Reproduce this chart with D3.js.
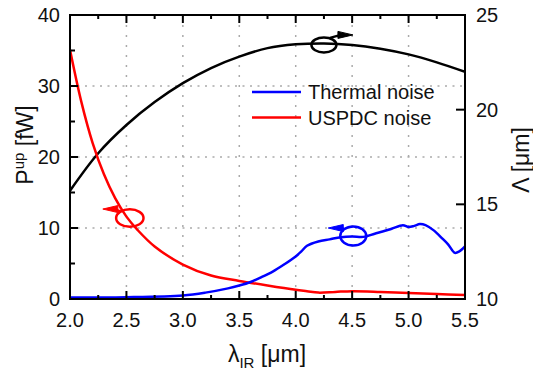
<!DOCTYPE html>
<html>
<head>
<meta charset="utf-8">
<script src="https://cdn.jsdelivr.net/npm/d3@7"></script>
<style>
body { margin: 0; background: #fff; }
text { font-family: "Liberation Sans", Arial, sans-serif; fill: #111; }
</style>
</head>
<body>
<div id="chart"></div>
<script>
// tick values
var xTicks = [2.0, 2.5, 3.0, 3.5, 4.0, 4.5, 5.0, 5.5];
var xMinorTicks = [2.25, 2.75, 3.25, 3.75, 4.25, 4.75, 5.25];
var yLeftTicks = [0, 10, 20, 30, 40];
var yLeftMinor = [5, 15, 25, 35];
var yRightTicks = [10, 15, 20, 25];
var gridX = [2.5, 3.0, 3.5, 4.0, 4.5, 5.0];
var gridY = [10, 20, 30];

// period Lambda (right axis)
var periodLambda = [2.0, 2.25, 2.5, 2.75, 3.0, 3.25, 3.5, 3.75, 4.0, 4.25, 4.5, 4.75, 5.0, 5.25, 5.5];
var periodValues = [15.72, 17.7, 19.19, 20.4, 21.4, 22.2, 22.8, 23.25, 23.45, 23.5, 23.42, 23.22, 22.92, 22.5, 22.0];

// USPDC noise (left axis)
var uspdcLambda = [2.0, 2.1, 2.2, 2.3, 2.4, 2.5, 2.6, 2.75, 3.0, 3.25, 3.5, 3.75, 4.0, 4.1, 4.2, 4.35, 4.5, 4.75, 5.0, 5.25, 5.5];
var uspdcValues = [35.1, 27.8, 22.0, 17.6, 14.2, 11.6, 9.7, 7.4, 4.85, 3.3, 2.55, 1.9, 1.3, 1.1, 0.9, 1.0, 1.1, 1.0, 0.85, 0.7, 0.55];

// thermal noise (left axis)
var thermalLambda = [2.0, 2.5, 3.0, 3.2, 3.4, 3.5, 3.6, 3.7, 3.8, 3.9, 4.0, 4.05, 4.1, 4.2, 4.3, 4.4, 4.5, 4.6, 4.7, 4.77, 4.85, 4.95, 5.0, 5.05, 5.1, 5.15, 5.22, 5.3, 5.35, 5.41, 5.45, 5.5];
var thermalValues = [0.2, 0.25, 0.5, 0.9, 1.5, 1.9, 2.4, 3.1, 3.9, 4.9, 6.0, 6.7, 7.5, 8.1, 8.4, 8.7, 8.8, 8.75, 9.2, 9.5, 9.9, 10.4, 10.15, 10.3, 10.55, 10.4, 9.7, 8.5, 7.7, 6.5, 6.7, 7.4];

var width = 533, height = 373;
var m = {left: 70, right: 68, top: 15, bottom: 74};

var svg = d3.select("#chart").append("svg").attr("width", width).attr("height", height);

var x = d3.scaleLinear().domain([2.0, 5.5]).range([m.left, width - m.right]);
var yL = d3.scaleLinear().domain([0, 40]).range([height - m.bottom, m.top]);
var yR = d3.scaleLinear().domain([10, 25]).range([height - m.bottom, m.top]);

var x0 = m.left, x1 = width - m.right, y0 = height - m.bottom, y1 = m.top;

svg.append("clipPath").attr("id", "clip")
	.append("rect").attr("x", x0).attr("y", y1).attr("width", x1 - x0).attr("height", y0 - y1);

// dotted grid
svg.append("g").selectAll("line").data(gridX).enter().append("line")
	.attr("x1", d => x(d)).attr("x2", d => x(d))
	.attr("y1", y1).attr("y2", y0)
	.style("stroke", "#aaa").style("stroke-width", 1.5).style("stroke-dasharray", "2,8");
svg.append("g").selectAll("line").data(gridY).enter().append("line")
	.attr("x1", x0).attr("x2", x1)
	.attr("y1", d => yL(d)).attr("y2", d => yL(d))
	.style("stroke", "#aaa").style("stroke-width", 1.5).style("stroke-dasharray", "2,5.5");

// curves
var curves = svg.append("g").attr("clip-path", "url(#clip)");
function addCurve(xs, vs, yScale, color) {
	var pts = xs.map((d, i) => [d, vs[i]]);
	curves.append("path")
		.datum(pts)
		.attr("d", d3.line().x(d => x(d[0])).y(d => yScale(d[1])).curve(d3.curveCatmullRom))
		.style("fill", "none").style("stroke", color).style("stroke-width", 2.5);
}
addCurve(periodLambda, periodValues, yR, "#000");
addCurve(uspdcLambda, uspdcValues, yL, "#ff0000");
addCurve(thermalLambda, thermalValues, yL, "#0000ff");

// frame
svg.append("rect").attr("x", x0).attr("y", y1).attr("width", x1 - x0).attr("height", y0 - y1)
	.style("fill", "none").style("stroke", "#000").style("stroke-width", 2);

// axes with inward ticks
var ax = svg.append("g");
function tickLines(vals, len, horiz, pos, dir, scale) {
	ax.append("g").selectAll("line").data(vals).enter().append("line")
		.attr(horiz ? "x1" : "y1", d => scale(d)).attr(horiz ? "x2" : "y2", d => scale(d))
		.attr(horiz ? "y1" : "x1", pos).attr(horiz ? "y2" : "x2", pos + dir * len)
		.style("stroke", "#000").style("stroke-width", 2);
}
tickLines(xTicks, 8, true, y0, -1, x);
tickLines(xMinorTicks, 4, true, y0, -1, x);
tickLines(xTicks, 8, true, y1, 1, x);
tickLines(xMinorTicks, 4, true, y1, 1, x);
tickLines(yLeftTicks, 8, false, x0, 1, yL);
tickLines(yLeftMinor, 5, false, x0, 1, yL);
tickLines(yRightTicks, 9, false, x1, -1, yR);

// tick labels
ax.append("g").selectAll("text").data(xTicks).enter().append("text")
	.attr("x", d => x(d)).attr("y", y0 + 28)
	.attr("text-anchor", "middle").style("font-size", "20px")
	.text(d => d.toFixed(1));
ax.append("g").selectAll("text").data(yLeftTicks).enter().append("text")
	.attr("x", x0 - 10).attr("y", d => yL(d) + 7)
	.attr("text-anchor", "end").style("font-size", "20px")
	.text(d => d);
ax.append("g").selectAll("text").data(yRightTicks).enter().append("text")
	.attr("x", x1 + 11).attr("y", d => yR(d) + 7)
	.attr("text-anchor", "start").style("font-size", "20px")
	.text(d => d);

// axis titles
var xl = svg.append("text").attr("x", 267).attr("y", 362).attr("text-anchor", "middle").style("font-size", "23px");
xl.append("tspan").text("λ");
xl.append("tspan").attr("dy", 6).style("font-size", "15px").text("IR");
xl.append("tspan").attr("dy", -6).text(" [μm]");

var yl = svg.append("text").attr("transform", "translate(33," + 145 + ") rotate(-90)")
	.attr("text-anchor", "middle").style("font-size", "23px");
yl.append("tspan").text("P");
yl.append("tspan").attr("dy", -9).style("font-size", "15px").text("up");
yl.append("tspan").attr("dy", 9).text(" [fW]");

svg.append("text").attr("transform", "translate(529," + 160 + ") rotate(-90)")
	.attr("text-anchor", "middle").style("font-size", "23px")
	.text("Λ [μm]");

// legend
var legend = [["Thermal noise", "#0000ff"], ["USPDC noise", "#ff0000"]];
legend.forEach(function (d, i) {
	var ly = 92 + i * 25.5;
	svg.append("line").attr("x1", 252).attr("x2", 301).attr("y1", ly).attr("y2", ly)
		.style("stroke", d[1]).style("stroke-width", 2.5);
	svg.append("text").attr("x", 308).attr("y", ly + 7).style("font-size", "20px").text(d[0]);
});

// annotation ellipses with arrows pointing at the axis
function marker(cx, cy, rx, ry, color, dir, base, tip) {
	var g = svg.append("g");
	g.append("ellipse").attr("cx", cx).attr("cy", cy).attr("rx", rx).attr("ry", ry)
		.style("fill", "none").style("stroke", color).style("stroke-width", 2.5);
	g.append("line").attr("x1", base[0]).attr("y1", base[1]).attr("x2", tip[0] - dir * 12).attr("y2", tip[1])
		.style("stroke", color).style("stroke-width", 2.5);
	g.append("path")
		.attr("d", "M" + tip[0] + "," + tip[1] + "L" + (tip[0] - dir * 15) + "," + (tip[1] - 3.5) +
			"L" + (tip[0] - dir * 15) + "," + (tip[1] + 3.5) + "Z")
		.style("fill", color).style("stroke", color).style("stroke-width", 1);
}
var bx = x(4.25), by = yR(23.42);
marker(bx, by, 12.5, 7.5, "#000", 1, [bx + 6, by - 7], [bx + 29, by - 10]);
var rx = x(2.53), ry = yL(11.4);
marker(rx, ry, 13.7, 8.7, "#ff0000", -1, [rx - 9, ry - 6.5], [rx - 27, ry - 9]);
var ux = x(4.51), uy = yL(8.87);
marker(ux, uy, 13, 9.5, "#0000ff", -1, [ux - 9, uy - 7], [ux - 25, uy - 8]);
</script>
</body>
</html>
